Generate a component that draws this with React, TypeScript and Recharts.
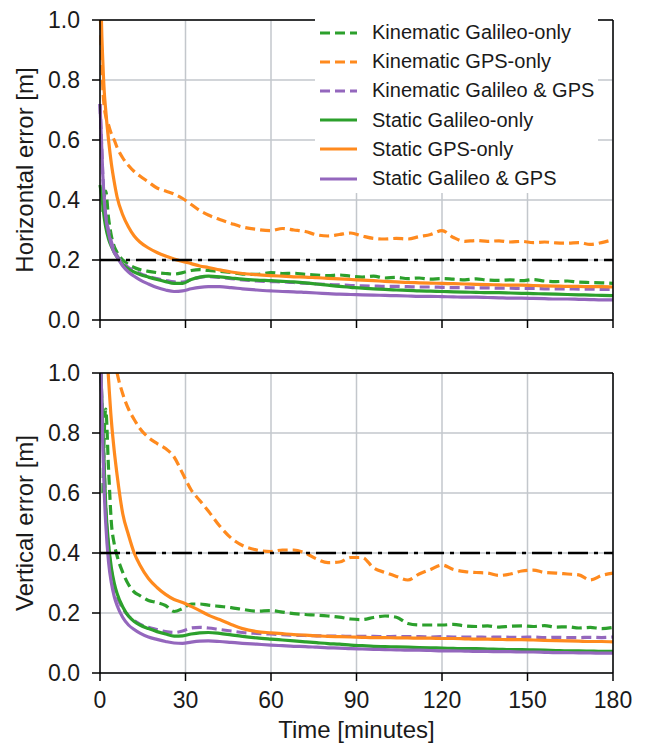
import React from "react";
import {
  LineChart,
  Line,
  XAxis,
  YAxis,
  CartesianGrid,
  ReferenceLine,
  Legend,
  Label,
} from "recharts";

const FONT = '"Liberation Sans", Arial, Helvetica, sans-serif';
const GREEN = "#2ca02c";
const ORANGE = "#ff8a1e";
const PURPLE = "#9467bd";

// time axis in minutes (finer at the start where curves drop fast)
const time = [
  0, 0.5, 1, 1.5, 2, 3, 4, 5, 6, 8, 10, 12, 14, 17, 20, 23, 26, 29, 32, 35, 38,
  42, 46, 50, 55, 60, 64, 68, 72, 76, 80, 84, 88, 92, 96, 100, 104, 108, 112,
  116, 120, 124, 128, 132, 136, 140, 144, 148, 152, 156, 160, 164, 168, 172,
  176, 180,
];

const xTicks = [0, 30, 60, 90, 120, 150, 180];
const yTicks = [0, 0.2, 0.4, 0.6, 0.8, 1.0];

// ---- horizontal error [m]
const kinGalH = [
  null, null, 0.36, 0.41, 0.43, 0.34, 0.28, 0.245, 0.225, 0.2, 0.185, 0.175,
  0.168, 0.162, 0.158, 0.155, 0.153, 0.158, 0.165, 0.168, 0.165, 0.162, 0.158,
  0.153, 0.152, 0.158, 0.155, 0.156, 0.152, 0.15, 0.148, 0.15, 0.146, 0.143,
  0.146, 0.14, 0.142, 0.138, 0.14, 0.136, 0.138, 0.136, 0.134, 0.137, 0.133,
  0.132, 0.134, 0.131, 0.135, 0.13, 0.128, 0.13, 0.126, 0.125, 0.124, 0.122,
];
const kinGpsH = [
  1.05, 0.9, 0.77, 0.71, 0.68, 0.65, 0.62, 0.6, 0.575, 0.54, 0.515, 0.495,
  0.48, 0.46, 0.44, 0.43, 0.42, 0.405, 0.385, 0.365, 0.35, 0.335, 0.322, 0.31,
  0.302, 0.298, 0.305, 0.3, 0.295, 0.284, 0.28, 0.285, 0.29, 0.28, 0.272, 0.27,
  0.272, 0.27, 0.278, 0.285, 0.298, 0.275, 0.262, 0.265, 0.262, 0.264, 0.26,
  0.262, 0.258, 0.26, 0.257, 0.256, 0.258, 0.252, 0.258, 0.268,
];
const kinBothH = [
  0.72, 0.6, 0.48, 0.4, 0.35, 0.3, 0.26, 0.235, 0.215, 0.19, 0.175, 0.165,
  0.155, 0.145, 0.138, 0.132, 0.127, 0.126, 0.135, 0.142, 0.145, 0.142, 0.138,
  0.134, 0.13, 0.128, 0.127, 0.125, 0.123, 0.12, 0.118, 0.117, 0.115, 0.114,
  0.113, 0.112, 0.112, 0.111, 0.11, 0.11, 0.109, 0.108, 0.108, 0.107, 0.107,
  0.106, 0.106, 0.105, 0.105, 0.104, 0.104, 0.104, 0.103, 0.103, 0.102, 0.102,
];
const statGalH = [
  0.45, 0.42, 0.38, 0.34, 0.31, 0.27, 0.245, 0.225, 0.21, 0.185, 0.17, 0.16,
  0.152, 0.143, 0.135, 0.128, 0.122, 0.122, 0.135, 0.143, 0.146, 0.144, 0.14,
  0.136, 0.133, 0.131, 0.129, 0.127, 0.124, 0.12, 0.116, 0.112, 0.109, 0.106,
  0.104, 0.102, 0.1, 0.099, 0.097, 0.096, 0.095, 0.094, 0.093, 0.092, 0.091,
  0.091, 0.09, 0.089, 0.088, 0.087, 0.086, 0.085, 0.084, 0.083, 0.082, 0.081,
];
const statGpsH = [
  1.3, 1.0, 0.86, 0.76, 0.7, 0.6, 0.52, 0.46, 0.41, 0.35, 0.31, 0.28, 0.26,
  0.24, 0.225, 0.213, 0.203, 0.195, 0.188, 0.18, 0.175, 0.167, 0.16, 0.155,
  0.151, 0.148, 0.146, 0.144, 0.143, 0.141, 0.139, 0.137, 0.135, 0.133, 0.131,
  0.129, 0.127, 0.125, 0.124, 0.123, 0.122, 0.121, 0.12, 0.119, 0.118, 0.117,
  0.116, 0.116, 0.115, 0.114, 0.113, 0.112, 0.112, 0.111, 0.111, 0.11,
];
const statBothH = [
  0.72, 0.6, 0.48, 0.4, 0.345, 0.29, 0.25, 0.225, 0.21, 0.18, 0.16, 0.146,
  0.134, 0.12, 0.108, 0.1, 0.095, 0.097, 0.104, 0.109, 0.111, 0.111, 0.108,
  0.104, 0.1, 0.097, 0.095, 0.094, 0.092, 0.09, 0.088, 0.086, 0.085, 0.084,
  0.083, 0.082, 0.081, 0.08, 0.079, 0.079, 0.078, 0.077, 0.076, 0.076, 0.075,
  0.074, 0.073, 0.073, 0.072, 0.071, 0.07, 0.07, 0.069, 0.068, 0.067, 0.067,
];

// ---- vertical error [m]
const kinGalV = [
  null, null, 0.6, 0.8, 0.88, 0.68, 0.5, 0.43, 0.39, 0.335, 0.295, 0.27, 0.258,
  0.242, 0.235, 0.225, 0.205, 0.215, 0.23, 0.23, 0.226, 0.222, 0.218, 0.212,
  0.206, 0.208, 0.203, 0.198, 0.195, 0.193, 0.19, 0.186, 0.18, 0.178, 0.185,
  0.19, 0.186, 0.165, 0.16, 0.16, 0.16, 0.162, 0.157, 0.155, 0.157, 0.153,
  0.156, 0.157, 0.155, 0.158, 0.153, 0.154, 0.15, 0.152, 0.148, 0.152,
];
const kinGpsV = [
  null, null, null, null, null, null, null, 1.05, 1.0, 0.93, 0.88, 0.845, 0.815,
  0.785, 0.765, 0.748, 0.72, 0.665, 0.61, 0.575, 0.54, 0.49, 0.45, 0.425, 0.41,
  0.405, 0.41, 0.41, 0.4, 0.38, 0.368, 0.37, 0.385, 0.385, 0.35, 0.335, 0.322,
  0.31, 0.33, 0.345, 0.36, 0.345, 0.338, 0.335, 0.333, 0.325, 0.33, 0.34,
  0.343, 0.335, 0.333, 0.33, 0.327, 0.31, 0.325, 0.333,
];
const kinBothV = [
  1.1, 0.95, 0.8, 0.68, 0.55, 0.42, 0.34, 0.29, 0.255, 0.215, 0.19, 0.175,
  0.163, 0.152, 0.145, 0.138, 0.135, 0.14, 0.15, 0.152, 0.15, 0.145, 0.14,
  0.135, 0.132, 0.13, 0.128, 0.126, 0.125, 0.124, 0.123, 0.123, 0.122, 0.122,
  0.122, 0.121, 0.122, 0.121, 0.121, 0.12, 0.121, 0.12, 0.12, 0.12, 0.119,
  0.12, 0.119, 0.119, 0.12, 0.118, 0.119, 0.118, 0.118, 0.119, 0.118, 0.12,
];
const statGalV = [
  1.1, 0.95, 0.82, 0.68, 0.56, 0.43, 0.35, 0.3, 0.265, 0.22, 0.19, 0.172, 0.16,
  0.148, 0.138, 0.13, 0.123, 0.124, 0.13, 0.134, 0.135, 0.132, 0.127, 0.122,
  0.117, 0.113, 0.11, 0.107, 0.104, 0.101, 0.098, 0.096, 0.093, 0.091, 0.089,
  0.088, 0.087, 0.086, 0.085, 0.084, 0.083, 0.082, 0.081, 0.081, 0.08, 0.079,
  0.078, 0.078, 0.077, 0.076, 0.075, 0.074, 0.074, 0.073, 0.072, 0.072,
];
const statGpsV = [
  null, null, 1.6, 1.3, 1.15, 0.98, 0.84, 0.74, 0.66, 0.53, 0.46, 0.4, 0.36,
  0.315, 0.285, 0.262, 0.245, 0.235, 0.222, 0.208, 0.193, 0.178, 0.162, 0.148,
  0.138, 0.134, 0.131, 0.128, 0.126, 0.124, 0.122, 0.121, 0.12, 0.119, 0.118,
  0.118, 0.117, 0.117, 0.116, 0.116, 0.115, 0.115, 0.114, 0.113, 0.113, 0.112,
  0.111, 0.111, 0.11, 0.109, 0.108, 0.107, 0.106, 0.105, 0.105, 0.104,
];
const statBothV = [
  1.15, 0.95, 0.75, 0.6, 0.5, 0.37, 0.3, 0.255, 0.225, 0.185, 0.16, 0.145,
  0.133, 0.12, 0.112, 0.105, 0.1, 0.099, 0.103, 0.106, 0.107, 0.105, 0.102,
  0.099, 0.096, 0.093, 0.091, 0.089, 0.088, 0.086, 0.084, 0.083, 0.081, 0.08,
  0.079, 0.078, 0.077, 0.076, 0.076, 0.075, 0.074, 0.074, 0.073, 0.072, 0.072,
  0.071, 0.071, 0.07, 0.07, 0.069, 0.068, 0.068, 0.067, 0.067, 0.066, 0.066,
];

const series = [
  { key: "kg", name: "Kinematic Galileo-only", color: GREEN, dashed: true },
  { key: "kp", name: "Kinematic GPS-only", color: ORANGE, dashed: true },
  { key: "kb", name: "Kinematic Galileo & GPS", color: PURPLE, dashed: true },
  { key: "sg", name: "Static Galileo-only", color: GREEN, dashed: false },
  { key: "sp", name: "Static GPS-only", color: ORANGE, dashed: false },
  { key: "sb", name: "Static Galileo & GPS", color: PURPLE, dashed: false },
];

const horizRows = time.map((t, i) => ({
  t,
  kg: kinGalH[i],
  kp: kinGpsH[i],
  kb: kinBothH[i],
  sg: statGalH[i],
  sp: statGpsH[i],
  sb: statBothH[i],
}));

const vertRows = time.map((t, i) => ({
  t,
  kg: kinGalV[i],
  kp: kinGpsV[i],
  kb: kinBothV[i],
  sg: statGalV[i],
  sp: statGpsV[i],
  sb: statBothV[i],
}));

const DASH = "10 5";
const LW = 3.2;

// keep the legend in the same order as the series list (recharts sorts payload)
const LegendBox = (props: any) => {
  const names = (props.payload || []).map((p: any) => p.value);
  return (
    <div style={{ background: "#fff", fontFamily: FONT }}>
      {series
        .filter((s) => names.includes(s.name))
        .map((s) => (
          <div
            key={s.key}
            style={{ height: 29.2, display: "flex", alignItems: "center" }}
          >
            <svg width={42} height={10} style={{ marginLeft: 5 }}>
              <line
                x1={0}
                y1={5}
                x2={37}
                y2={5}
                stroke={s.color}
                strokeWidth={LW}
                strokeDasharray={s.dashed ? DASH : undefined}
              />
            </svg>
            <span style={{ marginLeft: 10, fontSize: 20, color: "#1a1a1a" }}>
              {s.name}
            </span>
          </div>
        ))}
    </div>
  );
};

type PanelProps = {
  rows: any[];
  height: number;
  xAxisHeight: number;
  refY: number;
  yLabel: string;
  showXLabels: boolean;
  showLegend: boolean;
};

const Panel = ({
  rows,
  height,
  xAxisHeight,
  refY,
  yLabel,
  showXLabels,
  showLegend,
}: PanelProps) => (
  <LineChart
    width={651}
    height={height}
    data={rows}
    margin={{ top: 20, right: 38, left: 0, bottom: 0 }}
  >
    <CartesianGrid stroke="#c3c7cc" strokeWidth={1.5} />
    <XAxis
      dataKey="t"
      type="number"
      domain={[0, 180]}
      ticks={xTicks}
      height={xAxisHeight}
      axisLine={{ stroke: "#000", strokeWidth: 1.5 }}
      tickLine={{ stroke: "#000", strokeWidth: 1.5 }}
      tickSize={8}
      tickMargin={11}
      tick={{ fill: "#1a1a1a", fontSize: 23, fontFamily: FONT }}
      tickFormatter={(v: number) => (showXLabels ? String(v) : "")}
    >
      {showXLabels && (
        <Label
          value="Time [minutes]"
          position="insideBottom"
          offset={11}
          style={{ fill: "#1a1a1a", fontSize: 24, fontFamily: FONT }}
        />
      )}
    </XAxis>
    <YAxis
      type="number"
      domain={[0, 1]}
      ticks={yTicks}
      allowDataOverflow
      width={100}
      axisLine={{ stroke: "#000", strokeWidth: 1.5 }}
      tickLine={{ stroke: "#000", strokeWidth: 1.5 }}
      tickSize={8}
      tickMargin={12}
      tick={{ fill: "#1a1a1a", fontSize: 23, fontFamily: FONT }}
      tickFormatter={(v: number) => v.toFixed(1)}
    >
      <Label
        content={(p: any) => {
          const vb = p.viewBox || { x: 0, y: 20, width: 100, height: 300 };
          const cx = 33;
          const cy = vb.y + vb.height / 2;
          return (
            <text
              x={cx}
              y={cy}
              transform={`rotate(-90 ${cx} ${cy})`}
              textAnchor="middle"
              fill="#1a1a1a"
              fontSize={24}
              fontFamily={FONT}
            >
              {yLabel}
            </text>
          );
        }}
      />
    </YAxis>
    {series.map((s) => (
      <Line
        key={s.key}
        type="monotone"
        dataKey={s.key}
        name={s.name}
        stroke={s.color}
        strokeWidth={LW}
        strokeDasharray={s.dashed ? DASH : undefined}
        dot={false}
        activeDot={false}
        connectNulls={false}
        isAnimationActive={false}
      />
    ))}
    <ReferenceLine
      y={refY}
      stroke="#000"
      strokeWidth={2.6}
      strokeDasharray="20 6 4 6"
    />
    <ReferenceLine y={1} stroke="#000" strokeWidth={1.5} />
    <ReferenceLine x={180} stroke="#000" strokeWidth={1.5} />
    {showLegend && (
      <Legend
        layout="horizontal"
        verticalAlign="middle"
        align="center"
        content={LegendBox}
        wrapperStyle={{ left: 315, top: 18, width: 283, height: 176 }}
      />
    )}
  </LineChart>
);

export default function App() {
  return (
    <div
      style={{
        position: "absolute",
        left: 0,
        top: 0,
        width: 651,
        height: 749,
        background: "#fff",
        fontFamily: FONT,
      }}
    >
      <div style={{ position: "absolute", left: 0, top: 0 }}>
        <Panel
          rows={horizRows}
          height={345}
          xAxisHeight={25}
          refY={0.2}
          yLabel="Horizontal error [m]"
          showXLabels={false}
          showLegend
        />
      </div>
      <div style={{ position: "absolute", left: 0, top: 353 }}>
        <Panel
          rows={vertRows}
          height={396}
          xAxisHeight={76}
          refY={0.4}
          yLabel="Vertical error [m]"
          showXLabels
          showLegend={false}
        />
      </div>
    </div>
  );
}
